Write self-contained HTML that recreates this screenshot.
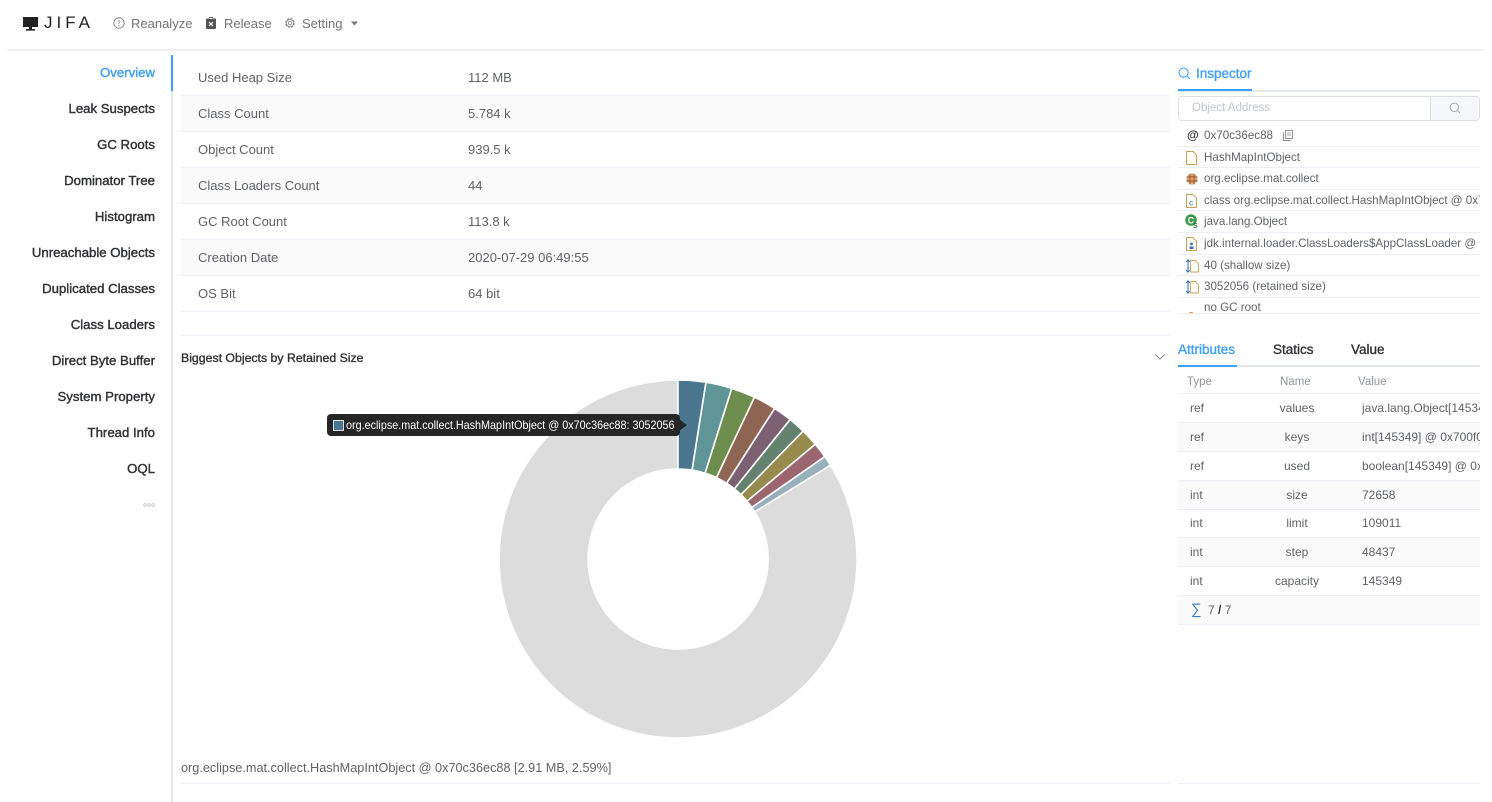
<!DOCTYPE html>
<html><head><meta charset="utf-8">
<style>
*{box-sizing:border-box;margin:0;padding:0}
body{width:1492px;height:802px;overflow:hidden;background:#fff;font-family:"Liberation Sans",Arial,sans-serif;position:relative;color:#606266}
.a{position:absolute;white-space:nowrap}
.med{-webkit-text-stroke:0.35px currentColor}
.side{position:absolute;left:0;width:155px;text-align:right;font-size:13.2px;line-height:20px;color:#303133;-webkit-text-stroke:0.4px currentColor}
.row{position:absolute;left:181px;width:989px;height:36px;border-bottom:1px solid #ebeef5;font-size:13px;line-height:36px;color:#606266}
.row.s{background:#fafafa}
.row span{position:absolute;white-space:nowrap}
.li{position:absolute;left:0;width:302px;height:21.6px;border-bottom:1px solid #ebeef5;font-size:11.6px;line-height:21px;color:#606266;white-space:nowrap;overflow:hidden}
.li .t{position:absolute;left:26px;top:0}
.li svg{position:absolute;left:8px;top:4px}
.tr{position:absolute;left:1178px;width:302px;border-bottom:1px solid #ebeef5;font-size:12px;color:#606266;overflow:hidden;white-space:nowrap}
.tr.s{background:#fafafa}
.tr span{position:absolute;top:0}
</style></head><body>

<!-- header -->
<svg class="a" style="left:23px;top:16px" width="15" height="15" viewBox="0 0 15 15">
<rect x="0" y="1" width="15" height="10" fill="#222"/><rect x="6" y="11" width="3" height="2" fill="#222"/><rect x="3" y="13" width="9" height="1.6" fill="#222"/>
</svg>
<div class="a" style="left:44px;top:13px;font-size:17px;line-height:20px;letter-spacing:4px;color:#222">JIFA</div>

<svg class="a" style="left:113px;top:17px" width="12" height="12" viewBox="0 0 12 12">
<circle cx="6" cy="6" r="5.2" fill="none" stroke="#888" stroke-width="1"/><rect x="5.5" y="2.8" width="1" height="4" fill="#888"/><rect x="5.5" y="8" width="1" height="1.2" fill="#888"/>
</svg>
<div class="a" style="left:131px;top:15px;font-size:13px;line-height:18px;color:#737373">Reanalyze</div>
<svg class="a" style="left:206px;top:17px" width="10" height="12" viewBox="0 0 10 12">
<rect x="0" y="1.5" width="10" height="10.5" rx="1" fill="#555"/><rect x="3" y="0" width="4" height="3" fill="#555"/><rect x="3.5" y="0.8" width="3" height="1.2" fill="#fff"/>
<path d="M3 5 L7 9 M7 5 L3 9" stroke="#fff" stroke-width="1.1"/>
</svg>
<div class="a" style="left:224px;top:15px;font-size:13px;line-height:18px;color:#737373">Release</div>
<svg class="a" style="left:284px;top:17px" width="12" height="12" viewBox="0 0 12 12">
<circle cx="6" cy="6" r="4.3" fill="none" stroke="#888" stroke-width="1.1" stroke-dasharray="2.2 1.2"/><circle cx="6" cy="6" r="3.6" fill="none" stroke="#888" stroke-width="0.8"/><circle cx="6" cy="6" r="1.7" fill="none" stroke="#888" stroke-width="0.9"/>
</svg>
<div class="a" style="left:302px;top:15px;font-size:13px;line-height:18px;color:#737373">Setting</div>
<svg class="a" style="left:351px;top:21px" width="7" height="5" viewBox="0 0 7 5"><path d="M0 0.5 L7 0.5 L3.5 4.5 Z" fill="#777"/></svg>

<div class="a" style="left:7px;top:49px;width:1477px;height:2px;background:#eeeeee"></div>

<!-- sidebar -->
<div class="a" style="left:171px;top:55px;width:2px;height:747px;background:#e4e7ed"></div>
<div class="a" style="left:171px;top:55px;width:2px;height:36px;background:#409eff"></div>
<div class="side" style="top:63px;color:#409eff">Overview</div>
<div class="side" style="top:99px">Leak Suspects</div>
<div class="side" style="top:135px">GC Roots</div>
<div class="side" style="top:171px">Dominator Tree</div>
<div class="side" style="top:207px">Histogram</div>
<div class="side" style="top:243px">Unreachable Objects</div>
<div class="side" style="top:279px">Duplicated Classes</div>
<div class="side" style="top:315px">Class Loaders</div>
<div class="side" style="top:351px">Direct Byte Buffer</div>
<div class="side" style="top:387px">System Property</div>
<div class="side" style="top:423px">Thread Info</div>
<div class="side" style="top:459px">OQL</div>
<svg class="a" style="left:143px;top:503px" width="12" height="4" viewBox="0 0 12 4">
<circle cx="2" cy="2" r="1.3" fill="none" stroke="#c0c4cc" stroke-width="0.8"/><circle cx="6" cy="2" r="1.3" fill="none" stroke="#c0c4cc" stroke-width="0.8"/><circle cx="10" cy="2" r="1.3" fill="none" stroke="#c0c4cc" stroke-width="0.8"/>
</svg>

<!-- main table -->
<div class="row" style="top:60px"><span style="left:17px">Used Heap Size</span><span style="left:287px">112 MB</span></div>
<div class="row s" style="top:96px"><span style="left:17px">Class Count</span><span style="left:287px">5.784 k</span></div>
<div class="row" style="top:132px"><span style="left:17px">Object Count</span><span style="left:287px">939.5 k</span></div>
<div class="row s" style="top:168px"><span style="left:17px">Class Loaders Count</span><span style="left:287px">44</span></div>
<div class="row" style="top:204px"><span style="left:17px">GC Root Count</span><span style="left:287px">113.8 k</span></div>
<div class="row s" style="top:240px"><span style="left:17px">Creation Date</span><span style="left:287px">2020-07-29 06:49:55</span></div>
<div class="row" style="top:276px"><span style="left:17px">OS Bit</span><span style="left:287px">64 bit</span></div>
<div class="a" style="left:181px;top:335px;width:989px;height:1px;background:#ebeef5"></div>

<div class="a med" style="left:181px;top:350px;font-size:12.3px;line-height:16px;color:#303133">Biggest Objects by Retained Size</div>
<svg class="a" style="left:1155px;top:354px" width="10" height="6" viewBox="0 0 10 6"><path d="M0.5 0.5 L5 5 L9.5 0.5" fill="none" stroke="#888" stroke-width="1"/></svg>

<!-- donut -->
<svg class="a" style="left:0;top:0" width="1492" height="802" viewBox="0 0 1492 802">
<g stroke="#fff" stroke-width="1.6" stroke-linejoin="round">
<path d="M830.5,465.2 A179,179 0 1 1 678,380 L678,469 A90,90 0 1 0 754.7,511.8 Z" fill="#dcdcdc"/>
<path d="M678,380 A179,179 0 0 1 706.0,382.2 L692.1,470.1 A90,90 0 0 0 678,469 Z" fill="#4a7690"/>
<path d="M706.0,382.2 A179,179 0 0 1 731.8,388.3 L705.1,473.2 A90,90 0 0 0 692.1,470.1 Z" fill="#5f9596"/>
<path d="M731.8,388.3 A179,179 0 0 1 754.5,397.2 L716.5,477.6 A90,90 0 0 0 705.1,473.2 Z" fill="#6c8d4d"/>
<path d="M754.5,397.2 A179,179 0 0 1 774.7,408.4 L726.6,483.3 A90,90 0 0 0 716.5,477.6 Z" fill="#8e6552"/>
<path d="M774.7,408.4 A179,179 0 0 1 790.2,419.5 L734.4,488.9 A90,90 0 0 0 726.6,483.3 Z" fill="#7b6172"/>
<path d="M790.2,419.5 A179,179 0 0 1 803.2,431.1 L741.0,494.7 A90,90 0 0 0 734.4,488.9 Z" fill="#64826f"/>
<path d="M803.2,431.1 A179,179 0 0 1 815.3,444.2 L747.0,501.3 A90,90 0 0 0 741.0,494.7 Z" fill="#978a4d"/>
<path d="M815.3,444.2 A179,179 0 0 1 824.8,456.6 L751.8,507.5 A90,90 0 0 0 747.0,501.3 Z" fill="#9c6670"/>
<path d="M824.8,456.6 A179,179 0 0 1 830.5,465.2 L754.7,511.8 A90,90 0 0 0 751.8,507.5 Z" fill="#98afbc"/>
</g>
<path d="M679,419 L687,425 L679,431 Z" fill="#262626"/>
</svg>

<!-- tooltip -->
<div class="a" style="left:327px;top:414px;width:353px;height:22px;background:#262626;border-radius:4px"></div>
<div class="a" style="left:333px;top:420px;width:11px;height:11px;background:#4a7690;border:1px solid #e0e0e0"></div>
<div class="a" style="left:346px;top:417px;font-size:12px;line-height:16px;color:#fff;transform:scaleX(0.9);transform-origin:0 0">org.eclipse.mat.collect.HashMapIntObject @ 0x70c36ec88: 3052056</div>

<!-- bottom text -->
<div class="a" style="left:181px;top:760px;font-size:12.7px;line-height:16px;color:#606266">org.eclipse.mat.collect.HashMapIntObject @ 0x70c36ec88 [2.91 MB, 2.59%]</div>
<div class="a" style="left:181px;top:783px;width:989px;height:1px;background:#ebeef5"></div>

<!-- right panel: inspector -->
<svg class="a" style="left:1178px;top:67px" width="13" height="13" viewBox="0 0 13 13"><circle cx="5.6" cy="5.6" r="4.6" fill="none" stroke="#409eff" stroke-width="1.1"/><path d="M9 9 L12 12" stroke="#409eff" stroke-width="1.1"/></svg>
<div class="a med" style="left:1196px;top:65px;font-size:13.5px;line-height:17px;color:#409eff">Inspector</div>
<div class="a" style="left:1178px;top:90px;width:302px;height:2px;background:#e4e7ed"></div>
<div class="a" style="left:1178px;top:89px;width:74px;height:2px;background:#409eff"></div>

<div class="a" style="left:1178px;top:96px;width:302px;height:25px;border:1px solid #dcdfe6;border-radius:4px;overflow:hidden">
  <div class="a" style="left:251px;top:0;width:50px;height:23px;background:#f5f7fa;border-left:1px solid #dcdfe6"></div>
</div>
<div class="a" style="left:1192px;top:101px;font-size:11.5px;line-height:14px;color:#c0c4cc">Object Address</div>
<svg class="a" style="left:1449px;top:102px" width="12" height="12" viewBox="0 0 12 12"><circle cx="5.3" cy="5.3" r="4.2" fill="none" stroke="#a8abb2" stroke-width="1"/><path d="M8.4 8.4 L11 11" stroke="#a8abb2" stroke-width="1"/></svg>

<div class="a" style="left:1178px;top:125px;width:302px;height:188px;overflow:hidden">
 <div class="li" style="top:0"><span class="a" style="left:9px;top:0;font-weight:bold;color:#333;font-size:12px">@</span><span class="t">0x70c36ec88</span>
  <svg style="left:105px;top:5px" width="10" height="11" viewBox="0 0 10 11"><rect x="2.5" y="0.5" width="7" height="8" fill="none" stroke="#888" stroke-width="0.9"/><path d="M0.5 2.5 V10.5 H7.5" fill="none" stroke="#888" stroke-width="0.9"/><path d="M4 3 H8 M4 5 H8" stroke="#888" stroke-width="0.8"/></svg></div>
 <div class="li" style="top:21.6px"><svg width="11" height="14" viewBox="0 0 11 14"><path d="M0.5 0.5 H7 L10.5 4 V13.5 H0.5 Z" fill="#fffdf5" stroke="#c9a15e" stroke-width="1"/></svg><span class="t">HashMapIntObject</span></div>
 <div class="li" style="top:43.2px"><svg width="12" height="12" viewBox="0 0 12 12" style="top:5px"><circle cx="6" cy="6" r="5.5" fill="#d9a77a"/><path d="M4 0.5 V11.5 M8 0.5 V11.5 M0.5 4 H11.5 M0.5 8 H11.5" stroke="#a0522d" stroke-width="1"/></svg><span class="t">org.eclipse.mat.collect</span></div>
 <div class="li" style="top:64.8px"><svg width="11" height="14" viewBox="0 0 11 14"><path d="M0.5 0.5 H7 L10.5 4 V13.5 H0.5 Z" fill="#fffdf5" stroke="#c9a15e" stroke-width="1"/><text x="3" y="11.5" font-size="8" fill="#2a6ebb" font-family="Liberation Sans">c</text></svg><span class="t">class org.eclipse.mat.collect.HashMapIntObject @ 0x7</span></div>
 <div class="li" style="top:86.4px"><svg width="14" height="14" viewBox="0 0 14 14" style="left:7px;top:3px"><circle cx="6" cy="6" r="5.8" fill="#3d9a4a"/><text x="2.6" y="9.3" font-size="9" font-weight="bold" fill="#fff" font-family="Liberation Sans">C</text><text x="8" y="14" font-size="7" font-weight="bold" fill="#2e7a36" font-family="Liberation Sans">S</text></svg><span class="t">java.lang.Object</span></div>
 <div class="li" style="top:108px"><svg width="11" height="14" viewBox="0 0 11 14"><path d="M0.5 0.5 H7 L10.5 4 V13.5 H0.5 Z" fill="#fffdf5" stroke="#c9a15e" stroke-width="1"/><circle cx="5.5" cy="7" r="1.4" fill="#3b6fb5"/><path d="M3.5 12 V9.5 H7.5 V12" fill="#3b6fb5"/></svg><span class="t">jdk.internal.loader.ClassLoaders$AppClassLoader @ 0</span></div>
 <div class="li" style="top:129.6px"><svg width="13" height="14" viewBox="0 0 13 14"><path d="M2 1 V13 M0.3 2.8 L2 0.8 L3.7 2.8 M0.3 11.2 L2 13.2 L3.7 11.2" fill="none" stroke="#2a6ebb" stroke-width="1"/><path d="M4.5 1.5 H9.5 L12.5 4.5 V13 H4.5 Z" fill="#fffdf5" stroke="#c9a15e" stroke-width="0.9"/></svg><span class="t">40 (shallow size)</span></div>
 <div class="li" style="top:151.2px"><svg width="13" height="14" viewBox="0 0 13 14"><path d="M2 1 V13 M0.3 2.8 L2 0.8 L3.7 2.8 M0.3 11.2 L2 13.2 L3.7 11.2" fill="none" stroke="#2a6ebb" stroke-width="1"/><path d="M4.5 1.5 H9.5 L12.5 4.5 V13 H4.5 Z" fill="#fffdf5" stroke="#c9a15e" stroke-width="0.9"/></svg><span class="t">3052056 (retained size)</span></div>
 <div class="li" style="top:172.8px;border-bottom:none;overflow:visible"><svg width="10" height="14" viewBox="0 0 10 14" style="top:13px"><circle cx="5" cy="5" r="4" fill="#e8903a"/></svg><span class="t" style="top:-1px">no GC root</span></div>
</div>
<div class="a" style="left:1178px;top:313px;width:302px;height:1px;background:#ebeef5"></div>

<!-- attributes tabs -->
<div class="a med" style="left:1178px;top:341px;font-size:13.5px;line-height:17px;color:#409eff">Attributes</div>
<div class="a med" style="left:1273px;top:341px;font-size:13.5px;line-height:17px;color:#303133">Statics</div>
<div class="a med" style="left:1351px;top:341px;font-size:13.5px;line-height:17px;color:#303133">Value</div>
<div class="a" style="left:1178px;top:365px;width:302px;height:2px;background:#e4e7ed"></div>
<div class="a" style="left:1178px;top:365px;width:59px;height:2px;background:#409eff"></div>

<div class="tr" style="top:367px;height:27px;line-height:31px;color:#909399;font-size:11.5px"><span style="left:9px">Type</span><span style="left:102px">Name</span><span style="left:180px">Value</span></div>
<div class="tr" style="top:394px;height:29px;line-height:28px"><span style="left:12px">ref</span><span style="left:69px;width:100px;text-align:center">values</span><span style="left:184px">java.lang.Object[145349] @ 0x7</span></div>
<div class="tr s" style="top:423px;height:29px;line-height:28px"><span style="left:12px">ref</span><span style="left:69px;width:100px;text-align:center">keys</span><span style="left:184px">int[145349] @ 0x700f0</span></div>
<div class="tr" style="top:452px;height:29px;line-height:28px"><span style="left:12px">ref</span><span style="left:69px;width:100px;text-align:center">used</span><span style="left:184px">boolean[145349] @ 0x7</span></div>
<div class="tr s" style="top:481px;height:29px;line-height:28px"><span style="left:12px">int</span><span style="left:69px;width:100px;text-align:center">size</span><span style="left:184px">72658</span></div>
<div class="tr" style="top:510px;height:28px;line-height:27px"><span style="left:12px">int</span><span style="left:69px;width:100px;text-align:center">limit</span><span style="left:184px">109011</span></div>
<div class="tr s" style="top:538px;height:29px;line-height:28px"><span style="left:12px">int</span><span style="left:69px;width:100px;text-align:center">step</span><span style="left:184px">48437</span></div>
<div class="tr" style="top:567px;height:29px;line-height:28px"><span style="left:12px">int</span><span style="left:69px;width:100px;text-align:center">capacity</span><span style="left:184px">145349</span></div>
<div class="tr s" style="top:596px;height:29px;line-height:28px"><span style="left:13px;color:#3a7cc5;font-size:15px">∑</span><span style="left:30px;font-size:12px">7 <b style="color:#333">/</b> 7</span></div>

<div class="a" style="left:1178px;top:783px;width:302px;height:1px;background:#ebeef5"></div>
</body></html>
